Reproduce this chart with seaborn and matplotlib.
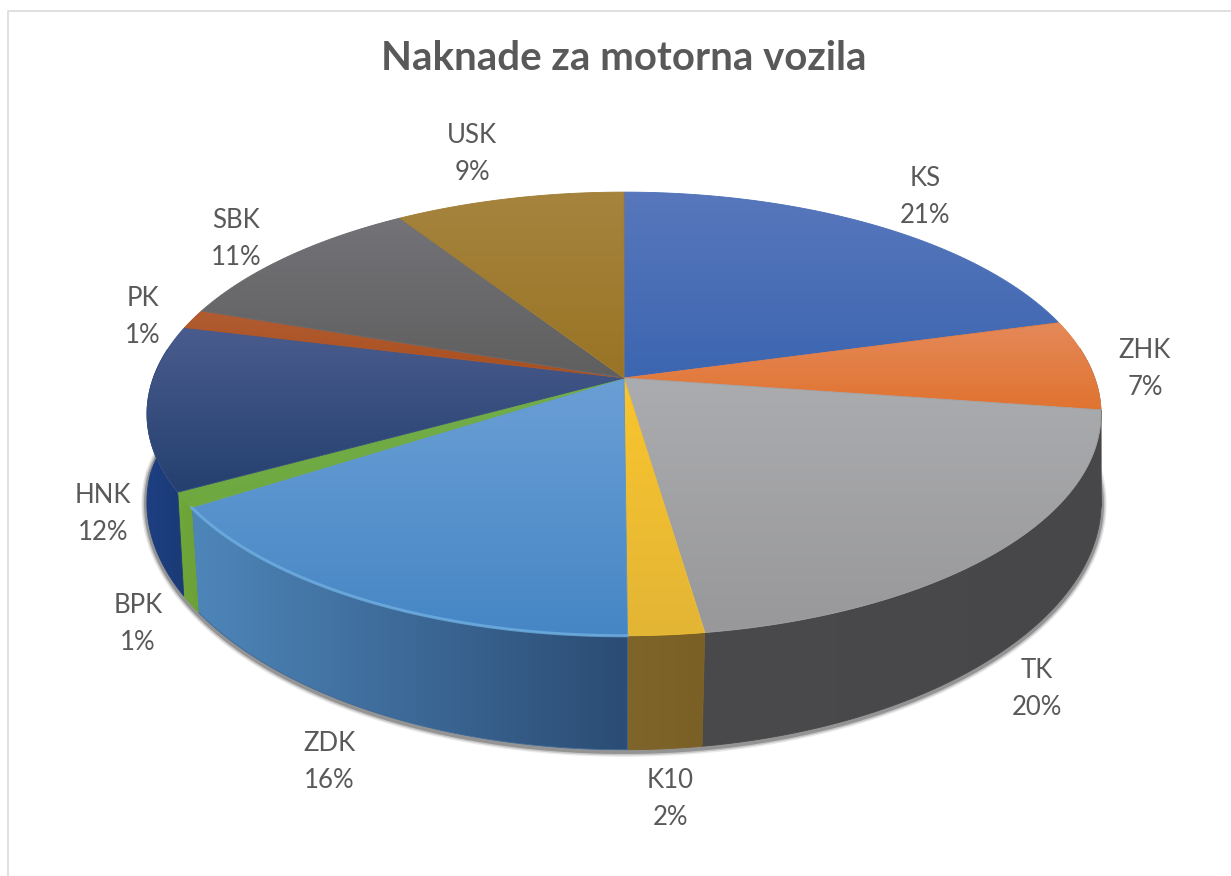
#!/usr/bin/env python3

import numpy as np
import matplotlib

matplotlib.use("Agg")
import matplotlib.pyplot as plt
import seaborn as sns
from matplotlib.colors import to_rgb
from matplotlib.patches import Polygon

regions = ["KS", "ZHK", "TK", "K10", "ZDK", "BPK", "HNK", "PK", "SBK", "USK"]
# slice sizes, printed rounded like in the labels
shares = [20.7, 6.6, 20.4, 2.2, 15.9, 1.1, 12.0, 1.4, 10.6, 9.1]
title = "Naknade za motorna vozila"

# colours: top face (upper, lower), wall (left, right)
top_hi = ["#5877BC", "#E5895A", "#ABACAF", "#F9C52E", "#6A9FD5", "#72AE4C", "#4A5C8E", "#B25C33", "#737378", "#A6843E"]
top_lo = ["#3C66B1", "#E0732F", "#98989A", "#E3B535", "#4686C5", "#6EA83F", "#24406F", "#A84F1D", "#5F5F5F", "#997425"]
wall_l = ["#2F4E86", "#5F4A3C", "#4A4A4C", "#80652A", "#4E86BA", "#70A83A", "#1D3F82", "#7A3A18", "#444444", "#7A5E1E"]
wall_r = ["#2F4E86", "#4F4A46", "#47474A", "#7A6025", "#2B4C74", "#6BA038", "#1B3A75", "#7A3A18", "#444444", "#7A5E1E"]

label_xy = [(925, 197), (1145, 369), (1037, 689), (670, 799), (329, 762),
            (138, 624), (103, 514), (143, 317), (236, 239), (472, 154)]

# projection of the pie plane into image pixels
CX, CY = 624, 378
A, B, K = 470.7, 216.0, 0.162
DEPTH = 95.5


def project_top(theta):
    x, y = np.cos(theta), np.sin(theta)
    w = 1 + K * y
    return CX + A * x / w, CY - B * y / w


def project_bottom(theta):
    x, y = np.cos(theta), np.sin(theta)
    w = 1 + K * y
    shrink = 1.006 - 0.04 * np.maximum(0, -y)
    return CX + A * x / w * shrink, CY - B * y / w + DEPTH / w


def gradient_fill(ax, pts, c0, c1, horizontal=False, zorder=2):
    """Fill a polygon with a linear two colour gradient."""
    patch = Polygon(pts, closed=True, facecolor="none", edgecolor="none", zorder=zorder)
    ax.add_patch(patch)
    t = np.linspace(0, 1, 256)[:, None]
    img = (1 - t) * np.array(to_rgb(c0)) + t * np.array(to_rgb(c1))
    img = img[None, :, :] if horizontal else img[:, None, :]
    x0, x1 = pts[:, 0].min(), pts[:, 0].max()
    y0, y1 = pts[:, 1].min(), pts[:, 1].max()
    im = ax.imshow(img, extent=(x0, x1, y1, y0), aspect="auto", zorder=zorder, interpolation="bilinear")
    im.set_clip_path(patch)
    # same colour outline hides the seams between the clipped images
    ax.add_patch(Polygon(pts, closed=True, facecolor="none", edgecolor=(0.5 * (np.array(to_rgb(c0)) + np.array(to_rgb(c1)))), lw=0.6, zorder=zorder))


def main():
    sns.set_theme(style="white")
    plt.rcParams["font.family"] = ["Lato", "DejaVu Sans"]

    fig = plt.figure(figsize=(12.31, 8.76), dpi=100)
    ax = fig.add_axes([0, 0, 1, 1])

    wedges, _ = ax.pie(shares, startangle=90, counterclock=False, colors=sns.color_palette(top_hi))
    angles = [(w.theta1, w.theta2) for w in wedges]
    for w in wedges:
        w.remove()

    ax.set_aspect("auto")

    # soft shadow under the lower rim
    t = np.radians(np.linspace(172, 368, 300))
    bx, by = project_bottom(t)
    for lw, alpha in ((8, 0.12), (6, 0.22), (4, 0.4)):
        ax.plot(bx, by + 1.5, color="#4a4a4a", lw=lw, alpha=alpha, zorder=1, solid_capstyle="round")

    # walls first, then the top faces over them
    for i, (t1, t2) in enumerate(angles):
        t = np.radians(np.linspace(t1, t2, 160))
        t = t[np.sin(t) < 0.14]
        if len(t) < 2:
            continue
        tx, ty = project_top(t)
        bx, by = project_bottom(t)
        pts = np.column_stack([np.r_[tx, bx[::-1]], np.r_[ty, by[::-1]]])
        gradient_fill(ax, pts, wall_l[i], wall_r[i], horizontal=True, zorder=2)

    for i, (t1, t2) in enumerate(angles):
        t = np.radians(np.linspace(t1, t2, 160))
        tx, ty = project_top(t)
        pts = np.column_stack([np.r_[CX, tx], np.r_[CY, ty]])
        gradient_fill(ax, pts, top_hi[i], top_lo[i], zorder=3)

    # light rim along the front of ZDK
    t = np.radians(np.linspace(*angles[regions.index("ZDK")], 120))
    tx, ty = project_top(t)
    ax.plot(tx, ty, color="#6FAEE0", lw=2.2, alpha=0.8, zorder=4)

    for name, share, (x, y) in zip(regions, shares, label_xy):
        ax.text(x, y, f"{name}\n{round(share)}%", ha="center", va="center", fontsize=18.5, color="#595959", linespacing=1.58, zorder=5)

    ax.text(624, 59, title, ha="center", va="center", fontsize=28.9, fontweight="bold", color="#595959", zorder=5)

    # thin frame of the pasted chart
    ax.plot([7.5, 7.5, 1231], [876, 10.5, 10.5], color="#DADADA", lw=1.2, zorder=1)

    ax.set_xlim(0, 1231)
    ax.set_ylim(876, 0)
    ax.axis("off")
    fig.savefig("out.png", dpi=100, facecolor="white")


if __name__ == "__main__":
    main()
